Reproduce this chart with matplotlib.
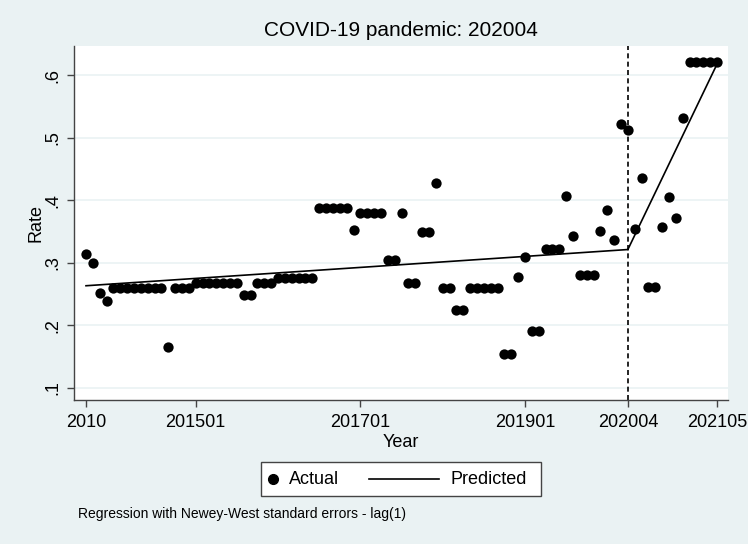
import numpy as np
import matplotlib
matplotlib.use('Agg')
import matplotlib.pyplot as plt
from matplotlib.lines import Line2D
from matplotlib.patches import Rectangle

plt.rcParams['font.family'] = ['Liberation Sans', 'DejaVu Sans']

# monthly rate, one value per period index
rate = [0.314, 0.299, 0.251, 0.239,
        0.260, 0.260, 0.260, 0.260, 0.260, 0.260, 0.260, 0.260,
        0.165,
        0.260, 0.260, 0.260,
        0.267, 0.267, 0.267, 0.267, 0.267, 0.267, 0.267,
        0.248, 0.248,
        0.267, 0.267, 0.267,
        0.275, 0.275, 0.275, 0.275, 0.275, 0.275,
        0.388, 0.388, 0.388, 0.388, 0.388,
        0.353,
        0.379, 0.379, 0.379, 0.379,
        0.304, 0.304,
        0.379,
        0.268, 0.268,
        0.349, 0.349,
        0.428,
        0.260, 0.260,
        0.224, 0.224,
        0.260, 0.260, 0.260, 0.260, 0.260,
        0.154, 0.154,
        0.277, 0.309,
        0.190, 0.190,
        0.322, 0.322, 0.322,
        0.406, 0.342,
        0.280, 0.280, 0.280,
        0.351, 0.385, 0.337, 0.522, 0.512,
        0.354, 0.435,
        0.261, 0.261,
        0.357, 0.405, 0.371, 0.532,
        0.621, 0.621, 0.621, 0.621, 0.621]
period = np.arange(len(rate))

# fitted segmented regression (knots: start, interruption, end)
pred_period = [0, 79, 92]
pred_rate = [0.263, 0.321, 0.618]

interruption = 79
tick_pos = [0, 16, 40, 64, 79, 92]
tick_labels = ['2010', '201501', '201701', '201901', '202004', '202105']
ytick_pos = [0.1, 0.2, 0.3, 0.4, 0.5, 0.6]
ytick_labels = ['.1', '.2', '.3', '.4', '.5', '.6']

bg = '#EAF2F3'
W, H = 748, 544
fig = plt.figure(figsize=(W / 100, H / 100), dpi=100, facecolor=bg)
ax = fig.add_axes([74 / W, 1 - 400 / H, (728 - 74) / W, (400 - 46) / H])
ax.set_facecolor('white')

ax.scatter(period, rate, s=55, color='black', zorder=3, linewidths=0)
ax.plot(pred_period[:2], pred_rate[:2], color='black', lw=1.2, zorder=4)
ax.plot(pred_period[1:], pred_rate[1:], color='black', lw=1.2, zorder=4)
ax.axvline(interruption, color='black', lw=1.2, ls=(0, (3, 2)), zorder=2)

ax.set_xlim(-1.75, 93.6)
ax.set_ylim(0.08, 0.647)
ax.set_xticks(tick_pos)
ax.set_xticklabels(tick_labels)
ax.set_yticks(ytick_pos)
ax.set_yticklabels(ytick_labels, rotation=90, va='center')
ax.tick_params(axis='both', labelsize=13, length=5, width=1, color='#444')
ax.tick_params(axis='y', pad=4)
ax.tick_params(axis='x', pad=5)
ax.grid(axis='y', color=bg, lw=1.2, zorder=0)
ax.set_axisbelow(True)
for s in ['top', 'right']:
    ax.spines[s].set_visible(False)
for s in ['left', 'bottom']:
    ax.spines[s].set_color('#444')
    ax.spines[s].set_linewidth(1)

ax.set_xlabel('Year', fontsize=13, labelpad=2)
ax.set_ylabel('Rate', fontsize=13, labelpad=0)
fig.text(401 / W, 1 - 30 / H, 'COVID-19 pandemic: 202004', fontsize=15,
         ha='center', va='center')

# legend box
fig.patches.append(Rectangle((261 / W, 1 - 496 / H), 280 / W, 34 / H,
                             transform=fig.transFigure, facecolor='white',
                             edgecolor='#444', lw=1))
ly = 1 - 479 / H
fig.add_artist(Line2D([273 / W], [ly], marker='o', ms=7, color='black',
                      lw=0, transform=fig.transFigure))
fig.text(289 / W, ly, 'Actual', fontsize=13, va='center')
fig.add_artist(Line2D([369 / W, 439 / W], [ly, ly], color='black', lw=1.2,
                      transform=fig.transFigure))
fig.text(451 / W, ly, 'Predicted', fontsize=13, va='center')

fig.text(78 / W, 1 - 514 / H,
         'Regression with Newey-West standard errors - lag(1)',
         fontsize=10, va='center')

fig.savefig('out.png', dpi=100, facecolor=bg)
